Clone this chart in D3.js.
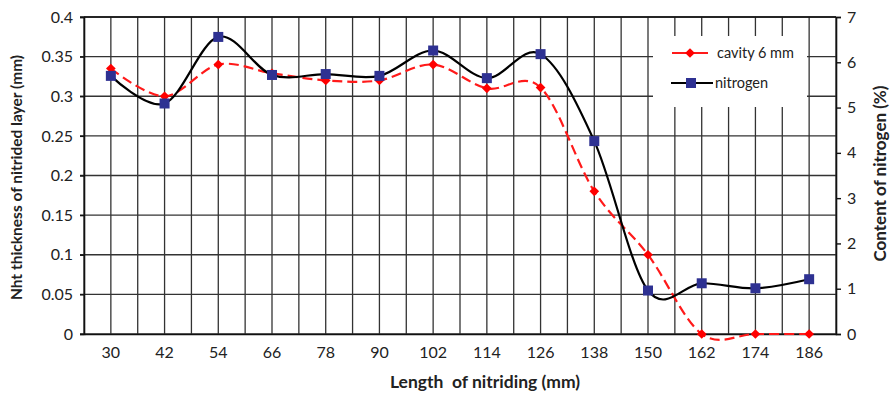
<!DOCTYPE html>
<html lang="en">
    <head>
        <meta charset="UTF-8" />
        <title>Nitriding</title>
        <script src="https://d3js.org/d3.v7.min.js"></script>
        <style>
            body { margin: 0; background: #fff; }
            text { font-family: Lato, "Open Sans", sans-serif; fill: #222; }
            .tick-label { font-size: 16px; }
            .axis-title { font-weight: bold; }
            .legend-text { font-size: 14.5px; }
        </style>
    </head>
    <body>
        <div id="chart"></div>
        <script>
            // data
            var lengths = [30, 42, 54, 66, 78, 90, 102, 114, 126, 138, 150, 162, 174, 186];
            var cavity = [0.335, 0.300, 0.340, 0.329, 0.320, 0.320, 0.340, 0.310, 0.311, 0.180, 0.100, 0, 0, 0];
            var nitrogen = [5.70, 5.09, 6.56, 5.72, 5.74, 5.70, 6.26, 5.65, 6.18, 4.26, 0.96, 1.12, 1.01, 1.21];
            var leftTicks = [0, 0.05, 0.1, 0.15, 0.2, 0.25, 0.3, 0.35, 0.4];
            var rightTicks = [0, 1, 2, 3, 4, 5, 6, 7];
            var leftTickLabels = ["0", "0.05", "0.1", "0.15", "0.2", "0.25", "0.3", "0.35", "0.4"];

            var W = 891, H = 394;
            var margin = {top: 17, right: 55, bottom: 60, left: 84},
                width = W - margin.left - margin.right,
                height = H - margin.top - margin.bottom;

            var svg = d3.select("#chart")
              .append("svg")
                .attr("width", W)
                .attr("height", H)
              .append("g")
                .attr("transform", "translate(" + margin.left + "," + margin.top + ")");

            // scales
            var x = d3.scaleBand()
              .domain(lengths)
              .range([0, width]);
            var cx = function(d) { return x(d) + x.bandwidth() / 2; };
            var yL = d3.scaleLinear().domain([0, 0.4]).range([height, 0]);
            var yR = d3.scaleLinear().domain([0, 7]).range([height, 0]);

            // grid: vertical lines at band edges and centres
            var vLines = [];
            lengths.forEach(function(d) { vLines.push(x(d)); vLines.push(cx(d)); });
            vLines.push(width);
            svg.append("g").selectAll("line")
              .data(vLines)
              .enter().append("line")
                .attr("x1", function(d) { return d; })
                .attr("x2", function(d) { return d; })
                .attr("y1", 0)
                .attr("y2", height)
                .attr("stroke", "#333")
                .attr("stroke-width", 1.3);

            // horizontal grid from left axis
            svg.append("g").selectAll("line")
              .data(leftTicks)
              .enter().append("line")
                .attr("x1", -4)
                .attr("x2", width)
                .attr("y1", function(d) { return yL(d); })
                .attr("y2", function(d) { return yL(d); })
                .attr("stroke", "#333")
                .attr("stroke-width", 1.3);

            // axes
            var axL = svg.append("g")
              .call(d3.axisLeft(yL).tickValues(leftTicks).tickSize(4)
                .tickFormat(function(d, i) { return leftTickLabels[i]; }));
            var axR = svg.append("g")
              .attr("transform", "translate(" + width + ",0)")
              .call(d3.axisRight(yR).tickValues(rightTicks).tickSize(5).tickFormat(d3.format("d")));
            var axB = svg.append("g")
              .attr("transform", "translate(0," + height + ")")
              .call(d3.axisBottom(x).tickSize(0).tickPadding(13));
            [axL, axR, axB].forEach(function(a) {
                a.select(".domain").attr("stroke", "#111").attr("stroke-width", 1.6);
                a.selectAll(".tick line").attr("stroke", "#111").attr("stroke-width", 1.4);
                a.selectAll(".tick text").attr("class", "tick-label").attr("fill", "#222");
            });
            axL.selectAll(".tick text").attr("x", -11);
            axR.selectAll(".tick text").attr("x", 11);

            // top border
            svg.append("line")
              .attr("x1", 0).attr("x2", width)
              .attr("y1", 0).attr("y2", 0)
              .attr("stroke", "#111").attr("stroke-width", 1.4);

            // lines (smoothed like the spreadsheet)
            var lineL = d3.line()
              .x(function(d, i) { return cx(lengths[i]); })
              .y(function(d) { return yL(d); })
              .curve(d3.curveCardinal.tension(0));
            var lineR = d3.line()
              .x(function(d, i) { return cx(lengths[i]); })
              .y(function(d) { return yR(d); })
              .curve(d3.curveCardinal.tension(0));

            svg.append("path")
              .datum(cavity)
              .attr("d", lineL)
              .attr("fill", "none")
              .attr("stroke", "#ff1a1a")
              .attr("stroke-width", 2.2)
              .attr("stroke-dasharray", "10,5");

            svg.append("path")
              .datum(nitrogen)
              .attr("d", lineR)
              .attr("fill", "none")
              .attr("stroke", "#000")
              .attr("stroke-width", 2.2);

            // markers
            var diamond = d3.symbol().type(d3.symbolDiamond2).size(60);
            svg.append("g").selectAll("path")
              .data(cavity)
              .enter().append("path")
                .attr("d", diamond)
                .attr("transform", function(d, i) { return "translate(" + cx(lengths[i]) + "," + yL(d) + ")"; })
                .attr("fill", "#ff0000");

            svg.append("g").selectAll("rect")
              .data(nitrogen)
              .enter().append("rect")
                .attr("x", function(d, i) { return cx(lengths[i]) - 5; })
                .attr("y", function(d) { return yR(d) - 5; })
                .attr("width", 10)
                .attr("height", 10)
                .attr("fill", "#2e3192");

            // legend
            var legend = svg.append("g").attr("transform", "translate(" + (653 - margin.left) + "," + (36 - margin.top) + ")");
            legend.append("rect")
              .attr("width", 154).attr("height", 71)
              .attr("fill", "#fff");
            legend.append("line")
              .attr("x1", 19).attr("x2", 55).attr("y1", 17).attr("y2", 17)
              .attr("stroke", "#ff1a1a").attr("stroke-width", 2);
            legend.append("path")
              .attr("d", diamond)
              .attr("transform", "translate(37,17)")
              .attr("fill", "#ff0000");
            legend.append("text")
              .attr("class", "legend-text")
              .attr("x", 64).attr("y", 22)
              .text("cavity 6 mm");
            legend.append("line")
              .attr("x1", 18).attr("x2", 60).attr("y1", 47).attr("y2", 47)
              .attr("stroke", "#000").attr("stroke-width", 2);
            legend.append("rect")
              .attr("x", 33).attr("y", 42).attr("width", 10).attr("height", 10)
              .attr("fill", "#2e3192");
            legend.append("text")
              .attr("class", "legend-text")
              .attr("x", 62).attr("y", 52)
              .text("nitrogen");

            // axis titles
            svg.append("text")
              .attr("class", "axis-title")
              .attr("text-anchor", "middle")
              .style("font-size", "15.5px")
              .attr("transform", "translate(" + (22 - margin.left) + "," + (height / 2 + 2) + ")rotate(-90)")
              .text("Nht thickness of nitrided layer (mm)");
            svg.append("text")
              .attr("class", "axis-title")
              .attr("text-anchor", "middle")
              .style("font-size", "17px")
              .attr("transform", "translate(" + (width + 50) + "," + (height / 2 - 2) + ")rotate(-90)")
              .text("Content of nitrogen (%)");
            svg.append("text")
              .attr("class", "axis-title")
              .attr("text-anchor", "middle")
              .style("font-size", "17.5px")
              .attr("x", 485 - margin.left)
              .attr("y", height + 54)
              .attr("xml:space", "preserve")
              .style("white-space", "pre")
              .text("Length  of nitriding (mm)");
        </script>
    </body>
</html>
